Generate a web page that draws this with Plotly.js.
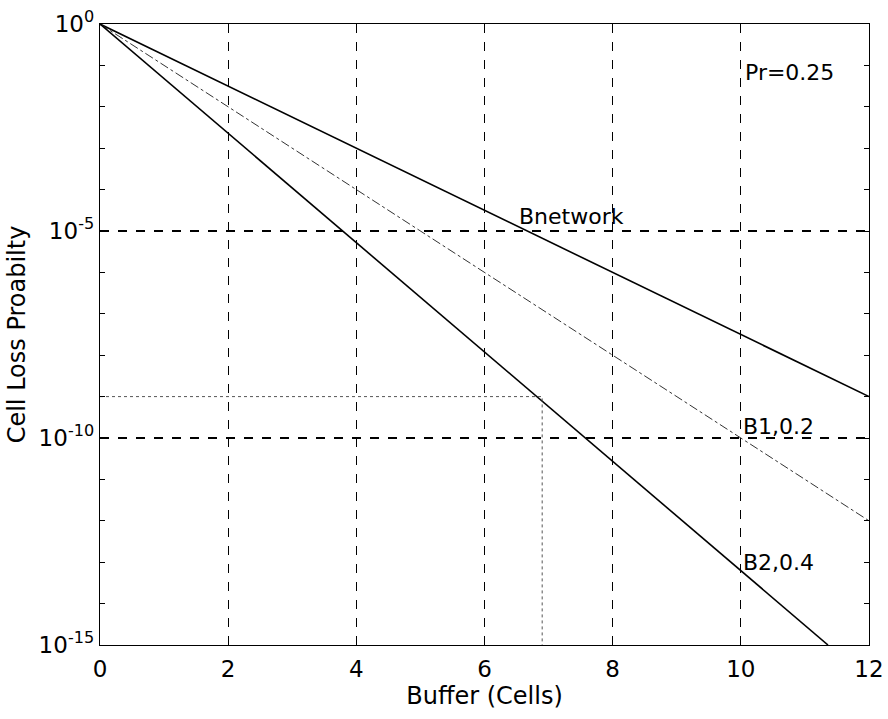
<!DOCTYPE html>
<html>
<head>
<meta charset="utf-8">
<script src="https://cdn.plot.ly/plotly-3.0.1.min.js"></script>
<style>html,body{margin:0;padding:0;background:#fff;}#chart{width:888px;height:719px;}</style>
</head>
<body>
<div id="chart"></div>
<script>
// Data
const bnetX = [0, 12];
const bnetY = [1, 1e-9];
const b1X = [0, 12];
const b1Y = [1, 1e-12];
const b2X = [0, 11.36];
const b2Y = [1, 1e-15];
const markX = [0, 6.9, 6.9];
const markY = [1e-9, 1e-9, 1e-15];

const xTicks = [0, 2, 4, 6, 8, 10, 12];
const yTickVals = [1, 1e-5, 1e-10, 1e-15];
const yTickText = ['10<sup>0</sup>', '10<sup>-5</sup>', '10<sup>-10</sup>', '10<sup>-15</sup>'];
const yMinorVals = [1e-1,1e-2,1e-3,1e-4,1e-6,1e-7,1e-8,1e-9,1e-11,1e-12,1e-13,1e-14];

const labels = [
  {text: 'Pr=0.25', x: 10.03, y: -1.16},
  {text: 'Bnetwork', x: 6.5, y: -4.66},
  {text: 'B1,0.2', x: 10.0, y: -9.73},
  {text: 'B2,0.4', x: 10.01, y: -13.0}
];

const font = 'DejaVu Sans, Liberation Sans, Arial, sans-serif';

const traces = [
  {x: bnetX, y: bnetY, mode: 'lines', line: {color: '#000', width: 1.6}, name: 'Bnetwork'},
  {x: b1X, y: b1Y, mode: 'lines', line: {color: '#333', width: 1, dash: 'dashdot'}, name: 'B1'},
  {x: b2X, y: b2Y, mode: 'lines', line: {color: '#000', width: 1.6}, name: 'B2'},
  {x: markX, y: markY, mode: 'lines', line: {color: '#555', width: 1, dash: 'dot'}, name: 'mark'}
];

const layout = {
  width: 888, height: 719,
  margin: {l: 100, r: 19, t: 24, b: 74},
  paper_bgcolor: '#fff', plot_bgcolor: '#fff',
  showlegend: false,
  font: {family: font, color: '#000', size: 22},
  xaxis: {
    range: [0, 12], tickvals: xTicks, ticktext: xTicks.map(String),
    showline: true, mirror: 'ticks', linecolor: '#000', linewidth: 1.2,
    ticks: 'inside', ticklen: 6, tickcolor: '#000',
    showgrid: true, gridcolor: '#000', griddash: 'dash', gridwidth: 1.2,
    zeroline: false,
    ticklabelstandoff: 3,
    tickfont: {size: 23, family: font},
    title: {text: 'Buffer (Cells)', font: {size: 24, family: font}, standoff: 0}
  },
  yaxis: {
    type: 'log', range: [-15, 0], tickvals: yTickVals, ticktext: yTickText,
    showline: true, mirror: 'ticks', linecolor: '#000', linewidth: 1.2,
    ticks: 'inside', ticklen: 6, tickcolor: '#000',
    showgrid: true, gridcolor: '#000', griddash: 'dash', gridwidth: 1.2,
    zeroline: false,
    minor: {tickvals: yMinorVals, ticks: 'inside', ticklen: 5, tickcolor: '#000', showgrid: false},
    tickfont: {size: 23, family: font},
    title: {text: 'Cell Loss Proabilty', font: {size: 24, family: font}, standoff: 6}
  },
  annotations: labels.map(l => ({
    text: l.text, x: l.x, y: l.y, xref: 'x', yref: 'y',
    xanchor: 'left', yanchor: 'middle', showarrow: false,
    font: {size: 22, family: font, color: '#000'}
  }))
};

Plotly.newPlot('chart', traces, layout, {displayModeBar: false, staticPlot: true});
</script>
</body>
</html>
